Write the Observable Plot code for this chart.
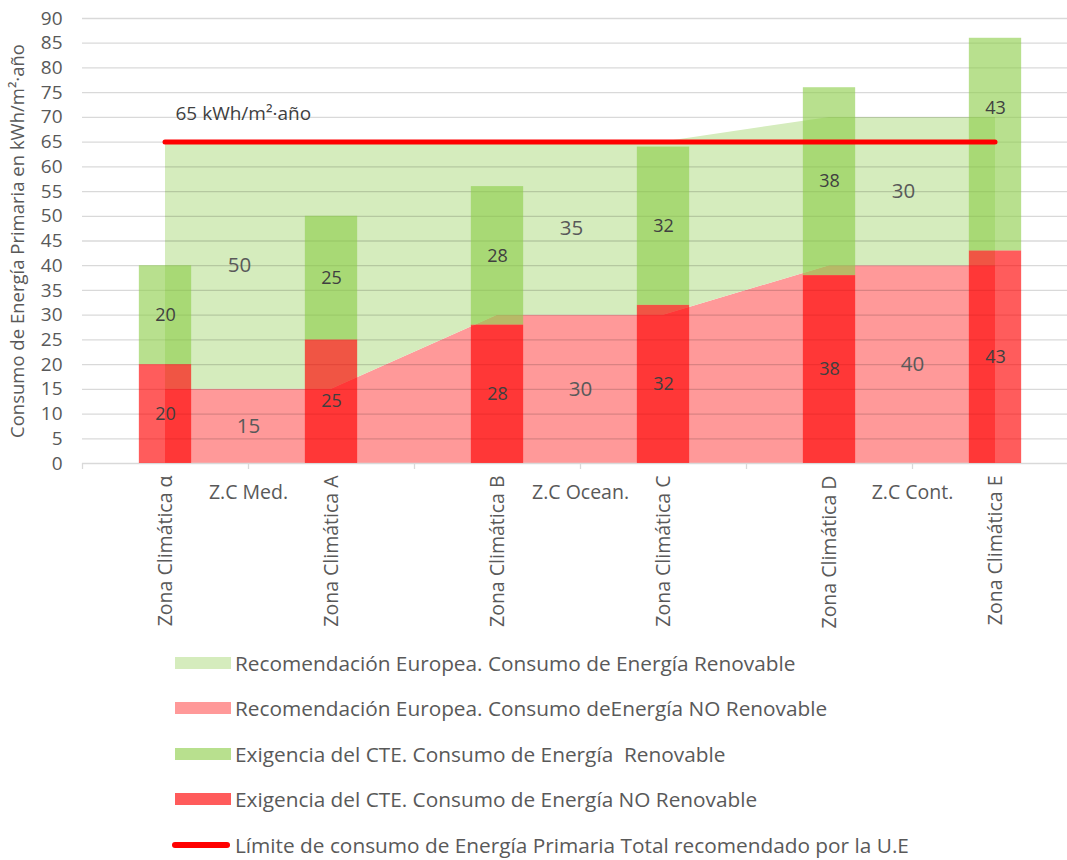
<!DOCTYPE html>
<html>
<head>
<meta charset="utf-8">
<script src="https://cdn.jsdelivr.net/npm/d3@7"></script>
<script src="https://cdn.jsdelivr.net/npm/@observablehq/plot@0.6"></script>
<style>
  html, body { margin: 0; padding: 0; background: #fff; }
  body { width: 1067px; font-family: "Open Sans", sans-serif; }
  #legend { margin-left: 170px; }
  .item { height: 45.5px; display: flex; align-items: center; font-size: 20.8px; color: #595959; white-space: pre; }
  .sw { width: 56px; height: 12px; margin-left: 5px; margin-right: 4px; }
  .ln { width: 58px; height: 6px; border-radius: 3px; background: #FF0000; margin-left: 2px; margin-right: 5px; }
</style>
</head>
<body>
<div id="chart"></div>
<div id="legend"></div>
<script>
// ---- data ----
const zones = ["Zona Climática α", "Zona Climática A", "Zona Climática B", "Zona Climática C", "Zona Climática D", "Zona Climática E"];
const zonePos = [1, 3, 5, 7, 9, 11];
const cteNoRenovable = [20, 25, 28, 32, 38, 43];
const cteRenovable = [20, 25, 28, 32, 38, 43];

const regions = ["Z.C Med.", "Z.C Ocean.", "Z.C Cont."];
const regionPos = [2, 6, 10];
const euNoRenovable = [15, 30, 40];
const euRenovable = [50, 35, 30];

const limitValue = 65;
const limitLabel = "65 kWh/m²·año";
const yTicks = d3.range(0, 95, 5);
const xTickPos = [0, 2, 4, 6, 8, 10, 12];
const yLabel = "Consumo de Energía Primaria en kWh/m²·año";

const legendItems = [
  {label: "Recomendación Europea. Consumo de Energía Renovable", color: "#D5ECBD", type: "box"},
  {label: "Recomendación Europea. Consumo deEnergía NO Renovable", color: "#FF9999", type: "box"},
  {label: "Exigencia del CTE. Consumo de Energía  Renovable", color: "#B8E08E", type: "box"},
  {label: "Exigencia del CTE. Consumo de Energía NO Renovable", color: "#FF5B5B", type: "box"},
  {label: "Límite de consumo de Energía Primaria Total recomendado por la U.E", color: "#FF0000", type: "line"}
];

// ---- derived tables ----
const areaData = regions.flatMap((r, i) => [-1, 0, 1].map(o => ({
  x: regionPos[i] + o, nr: euNoRenovable[i], r: euRenovable[i]
})));
const regionData = regions.map((r, i) => ({name: r, x: regionPos[i], nr: euNoRenovable[i], r: euRenovable[i]}));
const zoneData = zones.map((z, i) => ({name: z, x: zonePos[i], nr: cteNoRenovable[i], r: cteRenovable[i]}));
const lastZone = zoneData.length - 1;
const halfBar = 0.315;
const txt = "#404040";

const chart = Plot.plot({
  width: 1067,
  height: 640,
  marginTop: 18,
  marginBottom: 177,
  marginLeft: 82,
  marginRight: 0,
  style: {fontFamily: "Open Sans, sans-serif", background: "#fff", overflow: "visible"},
  x: {domain: [0, 12], range: [82, 1078], axis: null},
  y: {domain: [0, 90], axis: null},
  marks: [
    // European recommendation areas
    Plot.areaY(areaData, {x: "x", y1: 0, y2: "nr", fill: "#FF9999", curve: "linear"}),
    Plot.areaY(areaData, {x: "x", y1: "nr", y2: d => d.nr + d.r, fill: "#D5ECBD", curve: "linear"}),
    // gridlines
    Plot.ruleY(yTicks.filter(d => d > 0), {stroke: "#000", strokeOpacity: 0.15, strokeWidth: 1.3}),
    Plot.ruleY([0], {stroke: "#D9D9D9", strokeWidth: 1.3}),
    // x tick marks
    Plot.ruleX(xTickPos, {x: d => d, y1: 0, y2: 0, insetBottom: -6, stroke: "#D9D9D9", strokeWidth: 1.3}),
    // CTE bars
    Plot.rectY(zoneData, {x1: d => d.x - halfBar, x2: d => d.x + halfBar, y1: 0, y2: "nr", fill: "#FF0000", fillOpacity: 0.64}),
    Plot.rectY(zoneData, {x1: d => d.x - halfBar, x2: d => d.x + halfBar, y1: "nr", y2: d => d.nr + d.r, fill: "#8CCD49", fillOpacity: 0.62}),
    // limit line
    Plot.ruleY([limitValue], {x1: zonePos[0], x2: zonePos[zonePos.length - 1], stroke: "#FF0000", strokeWidth: 5, strokeLinecap: "round"}),
    Plot.text([limitLabel], {x: zonePos[0], y: limitValue, dx: 10, dy: -28, textAnchor: "start", fontSize: 19, fill: txt}),
    // bar labels
    Plot.text(zoneData, {x: "x", y: d => d.nr / 2, text: d => String(d.nr), fontSize: 18, fill: txt}),
    Plot.text(zoneData.slice(0, lastZone), {x: "x", y: d => d.nr + d.r / 2, text: d => String(d.r), fontSize: 18, fill: txt}),
    Plot.text(zoneData.slice(lastZone), {x: "x", y: d => d.nr + d.r / 2, dy: -36, text: d => String(d.r), fontSize: 18, fill: txt}),
    // area labels
    Plot.text(regionData, {x: "x", y: d => d.nr / 2, text: d => String(d.nr), fontSize: 20.5, fill: "#595959"}),
    Plot.text(regionData, {x: "x", y: d => d.nr + d.r / 2, text: d => String(d.r), fontSize: 20.5, fill: "#595959", dx: -9}),
    // y axis
    Plot.axisY(yTicks, {tickSize: 0, tickPadding: 20, fontSize: 19, fill: "#595959", label: null}),
    Plot.text([yLabel], {frameAnchor: "left", textAnchor: "middle", rotate: -90, dx: -64, fontSize: 18.5, fill: "#595959"}),
    // x labels
    Plot.text(zoneData, {x: "x", y: 0, text: "name", rotate: -90, textAnchor: "end", dy: 12, fontSize: 19.5, fill: "#595959"}),
    Plot.text(regionData, {x: "x", y: 0, text: "name", dy: 29, fontSize: 19.5, fill: "#595959"})
  ]
});
document.getElementById("chart").appendChild(chart);

const legend = d3.select("#legend");
legendItems.forEach(it => {
  const row = legend.append("div").attr("class", "item");
  if (it.type === "box") row.append("div").attr("class", "sw").style("background", it.color);
  else row.append("div").attr("class", "ln");
  row.append("span").text(it.label);
});
</script>
</body>
</html>
